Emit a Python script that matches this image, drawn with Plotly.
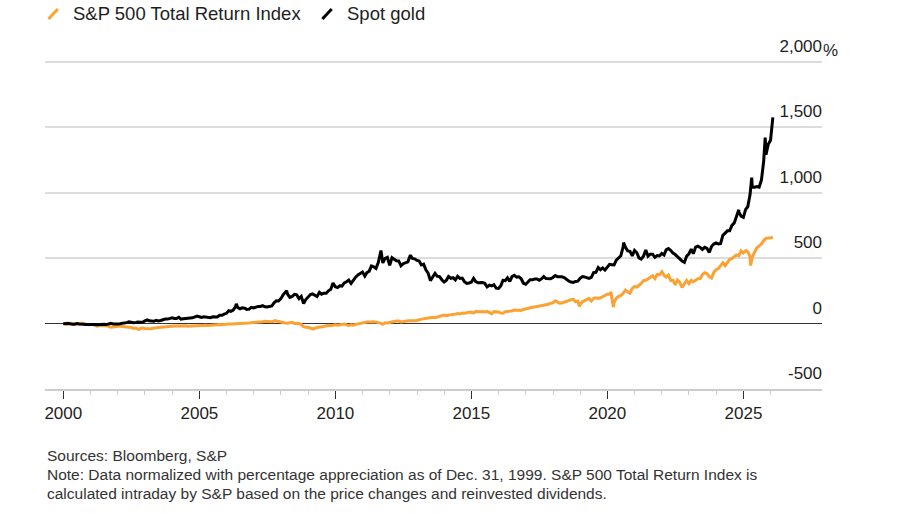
import pandas as pd
import plotly.graph_objects as go

# ---------------- data (% change since Dec. 31, 1999), month-end values ----------------
gold_pct = [
    0,
    -2, 2, -3, -5, -6, 0, -4, -3, -5, -8, -7, -5,            # 2000
    -8, -7, -10, -8, -7, -6, -8, -5, 2, -3, -5, -4,          # 2001
    -2, 3, 5, 7, 13, 10, 6, 8, 12, 10, 10, 20,               # 2002
    28, 21, 16, 17, 25, 20, 23, 30, 35, 34, 38, 44,          # 2003
    39, 38, 48, 34, 36, 37, 36, 42, 44, 49, 57, 52,          # 2004
    47, 51, 49, 51, 45, 51, 49, 50, 64, 63, 72, 78,          # 2005
    98, 93, 102, 127, 123, 113, 120, 117, 108, 110, 124, 119,  # 2006
    126, 131, 130, 136, 128, 126, 131, 134, 158, 174, 172, 190,  # 2007
    220, 237, 224, 200, 207, 223, 219, 190, 207, 153, 183, 202,  # 2008
    222, 227, 218, 207, 239, 224, 232, 232, 250, 261, 310, 281,  # 2009
    275, 288, 286, 310, 319, 332, 306, 333, 354, 371, 381, 393,  # 2010
    363, 389, 400, 440, 433, 421, 465, 530, 463, 498, 506, 444,  # 2011
    503, 489, 479, 478, 441, 457, 463, 472, 517, 497, 494, 482,  # 2012
    478, 448, 454, 411, 384, 328, 356, 384, 361, 359, 335, 317,  # 2013
    331, 360, 346, 350, 334, 361, 345, 347, 320, 307, 310, 316,  # 2014
    346, 321, 311, 311, 313, 307, 280, 293, 287, 297, 270, 268,  # 2015
    288, 330, 328, 349, 322, 359, 369, 355, 357, 342, 308, 300,  # 2016
    320, 334, 334, 340, 340, 331, 341, 359, 344, 341, 343, 352,  # 2017
    367, 358, 360, 357, 351, 335, 325, 317, 314, 322, 324, 345,  # 2018
    359, 356, 349, 345, 353, 389, 391, 428, 411, 425, 408, 427,  # 2019
    452, 450, 448, 485, 501, 518, 586, 583, 555, 552, 517, 559,  # 2020
    541, 502, 493, 514, 562, 515, 530, 530, 505, 519, 516, 535,  # 2021
    524, 563, 573, 559, 538, 527, 513, 494, 477, 467, 514, 533,  # 2022
    569, 534, 584, 591, 581, 566, 582, 574, 542, 589, 607, 616,  # 2023
    608, 610, 674, 694, 708, 708, 750, 769, 815, 853, 820, 811,  # 2024
    872, 892, 985, 1042, 1042, 1047, 1042, 1097, 1240, 1290, 1369, 1400,  # 2025
    1575,                                                      # 2026 Jan
]
gold_extra_dates = ["2006-05-12", "2008-03-17", "2011-09-05", "2012-10-04",
                    "2020-08-06", "2024-10-30", "2025-04-22", "2025-10-20"]
gold_extra_pct = [150, 251, 558, 522, 618, 869, 1115, 1421]

sp_pct = [
    0,
    -5, -7, 2, -1, -3, 0, -2, 4, -1, -2, -10, -9,            # 2000
    -6, -14, -20, -14, -13, -15, -16, -21, -28, -26, -21, -20,  # 2001
    -21, -23, -20, -24, -25, -30, -36, -35, -42, -37, -34, -38,  # 2002
    -39, -40, -40, -35, -31, -30, -29, -28, -28, -24, -24, -20,  # 2003
    -18, -17, -18, -20, -18, -17, -20, -19, -18, -17, -14, -11,  # 2004
    -13, -11, -13, -14, -12, -12, -8, -9, -8, -10, -7, -7,   # 2005
    -4, -4, -3, -1, -4, -4, -3, -1, 1, 5, 7, 8,              # 2006
    10, 8, 9, 14, 18, 16, 12, 14, 18, 20, 15, 14,            # 2007
    7, 4, 3, 9, 10, 1, 0, 1, -8, -23, -29, -28,              # 2008
    -34, -41, -36, -30, -26, -26, -20, -17, -14, -16, -11, -9,  # 2009
    -12, -10, -4, -3, -10, -15, -9, -13, -6, -2, -2, 4,      # 2010
    7, 11, 11, 14, 13, 11, 9, 3, -5, 6, 5, 7,                # 2011
    11, 16, 20, 19, 12, 17, 18, 21, 24, 22, 22, 23,          # 2012
    30, 32, 37, 39, 43, 41, 48, 44, 48, 55, 60, 64,          # 2013
    58, 66, 67, 68, 72, 76, 73, 80, 78, 82, 87, 86,          # 2014
    81, 91, 88, 90, 92, 89, 93, 81, 76, 91, 92, 89,          # 2015
    80, 79, 91, 92, 96, 96, 104, 104, 104, 100, 107, 112,    # 2016
    116, 124, 124, 127, 130, 131, 136, 137, 142, 147, 155, 158,  # 2017
    173, 162, 156, 157, 163, 165, 175, 183, 185, 166, 171, 146,  # 2018
    166, 175, 180, 192, 173, 192, 196, 192, 197, 204, 215, 224,  # 2019
    224, 197, 160, 194, 207, 213, 231, 255, 241, 232, 269, 283,  # 2020
    279, 289, 306, 328, 331, 341, 352, 365, 344, 375, 372, 393,  # 2021
    368, 354, 371, 330, 331, 295, 332, 314, 276, 307, 329, 305,  # 2022
    330, 320, 335, 342, 344, 373, 388, 380, 358, 348, 389, 411,  # 2023
    420, 447, 465, 442, 469, 489, 497, 511, 524, 519, 555, 539,  # 2024
    557, 549, 512, 508, 546, 579, 594, 608, 634, 651, 653, 653,  # 2025
    662,                                                       # 2026 Jan
]
sp_extra_dates = ["2002-10-09", "2007-10-09", "2009-03-09", "2018-12-24",
                  "2020-02-19", "2020-03-23", "2022-01-03", "2025-04-08"]
sp_extra_pct = [-45, 22, -43, 131, 241, 125, 396, 443]

year_ticks = ["2000", "2005", "2010", "2015", "2020", "2025"]
y_tick_vals = [-500, 0, 500, 1000, 1500, 2000]
y_tick_text = ["-500", "0", "500", "1,000", "1,500", "2,000"]

series_names = ["S&P 500 Total Return Index", "Spot gold"]
source_lines = [
    "Sources: Bloomberg, S&P",
    "Note: Data normalized with percentage appreciation as of Dec. 31, 1999. S&P 500 Total Return Index is",
    "calculated intraday by S&P based on the price changes and reinvested dividends.",
]

# ---------------- assemble ----------------
def build(values, extra_dates, extra_vals):
    idx = pd.date_range("1999-12-31", periods=len(values), freq=pd.offsets.MonthEnd())
    s = pd.Series(values, index=idx)
    e = pd.Series(extra_vals, index=pd.to_datetime(extra_dates))
    return pd.concat([s, e]).sort_index()

gold = build(gold_pct, gold_extra_dates, gold_extra_pct)
sp = build(sp_pct, sp_extra_dates, sp_extra_pct)

ORANGE = "#fca233"
BLACK = "#000000"
TEXT = "#1e1e1e"
FONT = "Liberation Sans, Arial, sans-serif"

fig = go.Figure()
fig.add_trace(go.Scatter(x=sp.index, y=sp.values, mode="lines", name=series_names[0],
                         line=dict(color=ORANGE, width=3)))
fig.add_trace(go.Scatter(x=gold.index, y=gold.values, mode="lines", name=series_names[1],
                         line=dict(color=BLACK, width=3)))

fig.update_layout(
    width=900, height=513,
    margin=dict(l=45, r=78, t=29, b=124),
    plot_bgcolor="white", paper_bgcolor="white",
    showlegend=False,
    font=dict(family=FONT, color=TEXT, size=16),
    xaxis=dict(
        type="date",
        range=["1999-04-30", "2027-11-22"],
        tickvals=[y + "-01-01" for y in year_ticks],
        ticktext=year_ticks,
        ticks="outside", ticklen=8, tickwidth=1.2, tickcolor="#333333",
        showline=True, linecolor="#cccccc", linewidth=1.5,
        showgrid=False, zeroline=False,
        tickfont=dict(size=17, color=TEXT),
        minor=dict(ticks="outside", ticklen=4, tickcolor="#cccccc", tickwidth=1,
                   dtick="M12", tick0="2000-01-01", showgrid=False),
        fixedrange=True,
    ),
    yaxis=dict(
        range=[-500, 2250],
        side="right",
        tickvals=y_tick_vals, ticktext=y_tick_text,
        ticklabelposition="inside top",
        ticklabelshift=-4,
        ticklabelstandoff=-3,
        ticks="",
        showgrid=True, gridcolor="#dcdcdc", gridwidth=1.5,
        zeroline=True, zerolinecolor="#333333", zerolinewidth=1.3,
        showline=False,
        tickfont=dict(size=17, color=TEXT),
        fixedrange=True,
    ),
)

# "%" suffix on the top tick label
fig.add_annotation(text="%", xref="paper", yref="y", x=1.0, y=2000, xanchor="left",
                   yanchor="bottom", showarrow=False, font=dict(size=17, color=TEXT),
                   xshift=-1, yshift=0)

# legend (slash icons + labels)
legend_items = [(series_names[0], ORANGE, 0.0045), (series_names[1], BLACK, 0.357)]
for name, color, x0 in legend_items:
    fig.add_shape(type="line", xref="paper", yref="paper",
                  x0=x0, y0=1.0278, x1=x0 + 0.012, y1=1.0556,
                  line=dict(color=color, width=3))
    fig.add_annotation(text=name, xref="paper", yref="paper", x=x0 + 0.029, y=1.0417,
                       xanchor="left", yanchor="middle", showarrow=False,
                       font=dict(size=18.5, color=TEXT, family=FONT))

# source / note lines
for i, line in enumerate(source_lines):
    fig.add_annotation(text=line, xref="paper", yref="paper", x=0, y=-0.1861 - i * 0.0514,
                       xanchor="left", yanchor="middle", showarrow=False,
                       font=dict(size=15.5, color="#333333", family=FONT))

fig.write_html("out.html", config={"displayModeBar": False},
               post_script="document.body.style.margin='0';document.body.style.overflow='hidden';")
